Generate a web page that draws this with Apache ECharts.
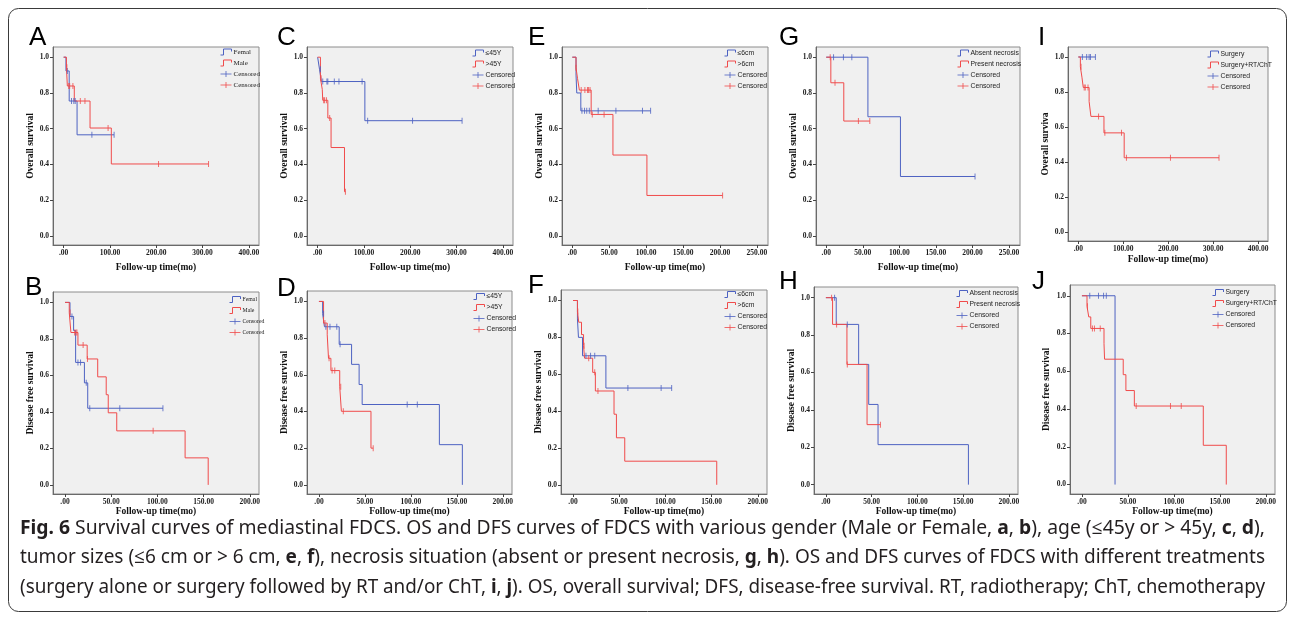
<!DOCTYPE html>
<html><head><meta charset="utf-8">
<script src="https://cdn.jsdelivr.net/npm/echarts@6/dist/echarts.min.js"></script>
<style>html,body{margin:0;padding:0;background:#fff}#c{width:1293px;height:618px}</style>
</head><body><div id="c"></div>
<script>
// ---------- tick labels ----------
const xTicks400 = [0, 100, 200, 300, 400];
const xLabels400 = ['.00', '100.00', '200.00', '300.00', '400.00'];
const xTicks250 = [0, 50, 100, 150, 200, 250];
const xLabels250 = ['.00', '50.00', '100.00', '150.00', '200.00', '250.00'];
const xTicks200 = [0, 50, 100, 150, 200];
const xLabels200 = ['.00', '50.00', '100.00', '150.00', '200.00'];
const yTicks = [0, 0.2, 0.4, 0.6, 0.8, 1.0];
const yLabels = ['0.0', '0.2', '0.4', '0.6', '0.8', '1.0'];

// ---------- group names ----------
const genderGroups = ['Femal', 'Male'];
const ageGroups = ['≤45Y', '>45Y'];
const sizeGroups = ['≤6cm', '>6cm'];
const necrosisGroups = ['Absent necrosis', 'Present necrosis'];
const treatGroups = ['Surgery', 'Surgery+RT/ChT'];

// ---------- survival data [time, survival] ----------
// A: OS by gender
const A_female = [[0,1],[5,0.923],[12,0.755],[29,0.566],[109,0.566]];
const A_femaleCens = [[8,0.923],[17,0.755],[22,0.755],[25,0.755],[61,0.566],[109,0.566]];
const A_male = [[0,1],[6,0.944],[8,0.839],[23,0.755],[57,0.604],[103,0.403],[313,0.403]];
const A_maleCens = [[7,0.944],[11,0.839],[13,0.839],[20,0.839],[36,0.755],[46,0.755],[96,0.604],[205,0.403],[313,0.403]];
// B: DFS by gender
const B_female = [[0,1],[5.4,0.923],[9.3,0.846],[11.5,0.671],[21,0.559],[24.6,0.42],[106,0.42]];
const B_femaleCens = [[7.5,0.923],[14,0.671],[16.8,0.671],[23,0.559],[26.8,0.42],[59.3,0.42],[106,0.42]];
const B_male = [[0,1],[4.6,0.944],[6.4,0.835],[14,0.766],[24,0.69],[35.4,0.592],[44.6,0.494],[46.8,0.395],[56,0.296],[130,0.148],[155,0]];
const B_maleCens = [[5.5,0.944],[10.4,0.835],[11.8,0.835],[12.9,0.835],[19.6,0.766],[24.3,0.69],[95.4,0.296]];
// C: OS by age
const C_young = [[0,1],[4,0.933],[8,0.864],[102,0.645],[312,0.645]];
const C_youngCens = [[6,0.933],[11,0.864],[20,0.864],[22,0.864],[36,0.864],[46,0.864],[96,0.864],[108,0.645],[205,0.645],[312,0.645]];
const C_old = [[0,1],[6,0.882],[10,0.82],[11,0.759],[22,0.66],[29,0.495],[58,0.248],[60,0.248]];
const C_oldCens = [[7.5,0.882],[13,0.759],[15,0.759],[19,0.759],[26,0.66],[60,0.248]];
// D: DFS by age
const D_young = [[0,1],[4,0.933],[6,0.862],[22,0.766],[35.5,0.657],[43.7,0.547],[47,0.438],[131,0.219],[156,0]];
const D_youngCens = [[5,0.933],[7.5,0.862],[12,0.862],[19.4,0.862],[23,0.766],[96,0.438],[107,0.438]];
const D_old = [[0,1],[5,0.882],[9,0.818],[10.4,0.69],[13,0.623],[22.6,0.535],[24.4,0.401],[56.6,0.2],[59,0.2]];
const D_oldCens = [[6.5,0.882],[11,0.69],[14.3,0.623],[17.2,0.623],[23.7,0.535],[26.5,0.401],[59,0.2]];
// E: OS by tumour size
const E_small = [[0,1],[5,0.9],[6,0.8],[11.5,0.7],[106,0.7]];
const E_smallCens = [[13,0.7],[16.5,0.7],[19.5,0.7],[23,0.7],[35,0.7],[59,0.7],[95,0.7],[106,0.7]];
const E_large = [[0,1],[5,0.941],[7,0.882],[9.5,0.816],[25.5,0.68],[55,0.453],[101,0.227],[203.5,0.227]];
const E_largeCens = [[5,0.941],[12,0.816],[17,0.816],[20.5,0.816],[22,0.816],[24,0.816],[27,0.68],[43,0.68],[203.5,0.227]];
// F: DFS by tumour size
const F_small = [[0,1],[4.8,0.9],[5.9,0.8],[10.3,0.7],[35.6,0.525],[107,0.525]];
const F_smallCens = [[14,0.7],[19,0.7],[23.5,0.7],[59.4,0.525],[95.4,0.525],[106.8,0.525]];
const F_large = [[0,1],[4.8,0.941],[6.2,0.882],[9.2,0.815],[11.4,0.755],[12.5,0.687],[21.3,0.61],[24.2,0.509],[44.4,0.383],[47,0.255],[56,0.128],[155.6,0]];
const F_largeCens = [[5.2,0.941],[12,0.755],[17,0.687],[23.5,0.61],[27,0.509]];
// G: OS by necrosis
const G_absent = [[0,1],[57,0.667],[101.5,0.333],[203.5,0.333]];
const G_absentCens = [[10,1],[23.5,1],[35,1],[203.5,0.333]];
const G_present = [[0,1],[6.3,0.857],[24,0.643],[59.6,0.643]];
const G_presentCens = [[5.4,1],[12,0.857],[44,0.643],[59.6,0.643]];
// H: DFS by necrosis
const H_absent = [[0,1],[11.3,0.857],[35.8,0.643],[46.8,0.429],[57,0.214],[155.8,0]];
const H_absentCens = [[9.5,1],[23.4,0.857]];
const H_present = [[0,1],[7.3,0.857],[23,0.643],[45,0.321],[59.6,0.321]];
const H_presentCens = [[6.2,1],[11.7,0.857],[23.4,0.643],[59.6,0.321]];
// I: OS by treatment
const I_surgery = [[0,1],[38,1]];
const I_surgeryCens = [[9,1],[18.5,1],[24,1],[27,1],[38,1]];
const I_combined = [[0,1],[4.5,0.944],[8,0.885],[11,0.826],[24,0.746],[28,0.661],[57,0.567],[102,0.425],[313,0.425]];
const I_combinedCens = [[6,0.944],[13,0.826],[15.5,0.826],[21.5,0.826],[45,0.661],[59,0.567],[96,0.567],[107,0.425],[205,0.425],[313,0.425]];
// J: DFS by treatment
const J_surgery = [[0,1],[36,0]];
const J_surgeryCens = [[8.5,1],[18,1],[23.5,1],[26.5,1]];
const J_combined = [[0,1],[5.5,0.944],[7.4,0.888],[9.6,0.827],[24,0.746],[24.6,0.664],[44.9,0.582],[47.8,0.498],[57,0.416],[132,0.208],[157,0]];
const J_combinedCens = [[6,0.944],[11.4,0.827],[13.6,0.827],[19.9,0.827],[59,0.416],[96.3,0.416],[108,0.416]];

// ---------- caption ----------
const captionLines = [
  [[1,'Fig. 6'],[0,' Survival curves of mediastinal FDCS. OS and DFS curves of FDCS with various gender (Male or Female, '],[1,'a'],[0,', '],[1,'b'],[0,'), age (≤45y or > 45y, '],[1,'c'],[0,', '],[1,'d'],[0,'),']],
  [[0,'tumor sizes (≤6 cm or > 6 cm, '],[1,'e'],[0,', '],[1,'f'],[0,'), necrosis situation (absent or present necrosis, '],[1,'g'],[0,', '],[1,'h'],[0,'). OS and DFS curves of FDCS with different treatments']],
  [[0,'(surgery alone or surgery followed by RT and/or ChT, '],[1,'i'],[0,', '],[1,'j'],[0,'). OS, overall survival; DFS, disease-free survival. RT, radiotherapy; ChT, chemotherapy']]
];

// ---------- layout / styles ----------
const BLUE = '#4d62c2', RED = '#f04b4b';
const SERIF = "'Liberation Serif','Times New Roman',serif";
const SANS = "'Liberation Sans',Arial,sans-serif";
const XS = {
  s400: {min:-23, max:422, ticks:xTicks400, labels:xLabels400},
  s250: {min:-14, max:265, ticks:xTicks250, labels:xLabels250},
  s200: {min:-13, max:210, ticks:xTicks200, labels:xLabels200}
};
const panels = [
  {letter:'A', lx:29, ly:38, left:53, top:47, w:206, h:198, xs:'s400', groups:genderGroups, d:[A_female,A_male,A_femaleCens,A_maleCens], yName:'Overall survival', yGap:15.5, xGap:18, lg:{left:218,top:46.5,sp:8,fam:SERIF,fs:7}},
  {letter:'C', lx:277, ly:38, left:307, top:47, w:206, h:198, xs:'s400', groups:ageGroups, d:[C_young,C_old,C_youngCens,C_oldCens], yName:'Overall survival', yGap:16, xGap:18, lg:{left:470,top:47.5,sp:8.4,fam:SANS,fs:6.8}},
  {letter:'E', lx:528, ly:38, left:562, top:47, w:206, h:198, xs:'s250', groups:sizeGroups, d:[E_small,E_large,E_smallCens,E_largeCens], yName:'Overall survival', yGap:17, xGap:18, lg:{left:722,top:47.5,sp:8.3,fam:SANS,fs:6.8}},
  {letter:'G', lx:779, ly:38, left:816, top:47, w:204, h:198, xs:'s250', groups:necrosisGroups, d:[G_absent,G_present,G_absentCens,G_presentCens], yName:'Overall survival', yGap:17.5, xGap:18, lg:{left:955,top:47.5,sp:8.3,fam:SANS,fs:6.8}},
  {letter:'I', lx:1038, ly:38, left:1068, top:47, w:200, h:194, xs:'s400', groups:treatGroups, d:[I_surgery,I_combined,I_surgeryCens,I_combinedCens], yName:'Overall surviva', yGap:16.5, xGap:14, lg:{left:1205,top:48.5,sp:8.1,fam:SANS,fs:6.8}},
  {letter:'B', lx:25, ly:288, left:53, top:292, w:206, h:202, xs:'s200', groups:genderGroups, d:[B_female,B_male,B_femaleCens,B_maleCens], yName:'Disease free survival', yGap:15.5, xGap:12, lg:{left:227,top:294,sp:6.2,fam:SERIF,fs:5.8}},
  {letter:'D', lx:277, ly:289, left:307, top:291, w:205, h:203, xs:'s200', groups:ageGroups, d:[D_young,D_old,D_youngCens,D_oldCens], yName:'Disease free survival', yGap:16, xGap:12, lg:{left:471,top:291,sp:8.7,fam:SANS,fs:6.8}},
  {letter:'F', lx:528, ly:286, left:561, top:290, w:206, h:204, xs:'s200', groups:sizeGroups, d:[F_small,F_large,F_smallCens,F_largeCens], yName:'Disease free survival', yGap:16, xGap:12, lg:{left:722,top:289,sp:8.7,fam:SANS,fs:6.8}},
  {letter:'H', lx:779, ly:282, left:814, top:287, w:204, h:207, xs:'s200', groups:necrosisGroups, d:[H_absent,H_present,H_absentCens,H_presentCens], yName:'Disease free survival', yGap:16.5, xGap:12, lg:{left:954,top:288,sp:8.7,fam:SANS,fs:6.8}},
  {letter:'J', lx:1032, ly:282, left:1070, top:285, w:205, h:209, xs:'s200', groups:treatGroups, d:[J_surgery,J_combined,J_surgeryCens,J_combinedCens], yName:'Disease free survival', yGap:18, xGap:12, lg:{left:1210,top:287,sp:8.5,fam:SANS,fs:6.8}}
];

const STEP_ICON = 'path://M0,6 L3,6 L3,0 L11,0 L11,2.5';
const PLUS_ICON = 'path://M0,3 L11,3 M5.5,0 L5.5,6';

function labelOf(ticks, labels) {
  return v => { const i = ticks.findIndex(t => Math.abs(t - v) < 1e-9); return i >= 0 ? labels[i] : ''; };
}

const grids = [], xAxes = [], yAxes = [], series = [], legends = [], graphics = [];
panels.forEach((p, i) => {
  const xs = XS[p.xs];
  grids.push({left:p.left, top:p.top, width:p.w, height:p.h, show:true, backgroundColor:'#f0f0f0', borderColor:'#8c8c8c', borderWidth:1});
  const tickFont = {fontFamily:SERIF, fontWeight:'bold', fontSize:7.5, color:'#1a1a1a'};
  const nameFont = {fontFamily:SERIF, fontWeight:'bold', fontSize:9.5, color:'#111'};
  xAxes.push({gridIndex:i, type:'value', min:xs.min, max:xs.max,
    axisLine:{show:true, onZero:false, lineStyle:{color:'#6a6a6a', width:1}},
    axisTick:{show:true, length:3, customValues:xs.ticks, lineStyle:{color:'#444'}},
    axisLabel:Object.assign({customValues:xs.ticks, formatter:labelOf(xs.ticks, xs.labels), margin:4}, tickFont),
    splitLine:{show:false},
    name:'Follow-up time(mo)', nameLocation:'middle', nameGap:p.xGap, nameTextStyle:nameFont});
  yAxes.push({gridIndex:i, type:'value', min:-0.05, max:1.057,
    axisLine:{show:true, onZero:false, lineStyle:{color:'#6a6a6a', width:1}},
    axisTick:{show:true, length:3, customValues:yTicks, lineStyle:{color:'#444'}},
    axisLabel:Object.assign({customValues:yTicks, formatter:labelOf(yTicks, yLabels), margin:4}, tickFont),
    splitLine:{show:false},
    name:p.yName, nameLocation:'middle', nameGap:p.yGap, nameTextStyle:nameFont});
  const common = {xAxisIndex:i, yAxisIndex:i, animation:false, silent:true};
  series.push(Object.assign({type:'line', name:p.groups[0], data:p.d[0], step:'end', symbol:'none', showSymbol:false, lineStyle:{color:BLUE, width:1}, itemStyle:{color:BLUE}, z:2}, common));
  series.push(Object.assign({type:'line', name:p.groups[1], data:p.d[1], step:'end', symbol:'none', showSymbol:false, lineStyle:{color:RED, width:1}, itemStyle:{color:RED}, z:3}, common));
  series.push(Object.assign({type:'scatter', name:'Censored', data:p.d[2], symbol:'rect', symbolSize:[1,6], itemStyle:{color:BLUE}, z:4}, common));
  series.push(Object.assign({type:'scatter', name:'Censored ', data:p.d[3], symbol:'rect', symbolSize:[1,6], itemStyle:{color:RED}, z:5}, common));
  const lh = p.lg.sp;
  legends.push({orient:'vertical', left:p.lg.left, top:p.lg.top, padding:0, itemWidth:11, itemHeight:6, itemGap:0, selectedMode:false,
    textStyle:{fontFamily:p.lg.fam, fontSize:p.lg.fs, color:'#222', lineHeight:lh, height:lh, padding:[0,0,0,-3]},
    data:[
      {name:p.groups[0], icon:STEP_ICON, itemStyle:{color:'none', borderColor:BLUE, borderWidth:1}},
      {name:p.groups[1], icon:STEP_ICON, itemStyle:{color:'none', borderColor:RED, borderWidth:1}},
      {name:'Censored', icon:PLUS_ICON, itemStyle:{color:'none', borderColor:BLUE, borderWidth:1}},
      {name:'Censored ', icon:PLUS_ICON, itemStyle:{color:'none', borderColor:RED, borderWidth:1}}
    ]});
  graphics.push({type:'text', x:p.lx, y:p.ly, style:{text:p.letter, fontFamily:SANS, fontSize:26, fill:'#000', verticalAlign:'middle', align:'left'}});
});

// caption
const CAP_FAM = "'Noto Sans','Open Sans',sans-serif";
const CAP_FS = 19.5;
const ctx = document.createElement('canvas').getContext('2d');
const captionY = [528, 557.5, 587];
captionLines.forEach((segs, k) => {
  let w = 0;
  segs.forEach(([b, t]) => { ctx.font = (b ? 'bold ' : '') + CAP_FS + 'px ' + CAP_FAM; w += ctx.measureText(t).width; });
  const target = 1245;
  const text = segs.map(([b, t]) => '{' + (b ? 'b' : 'n') + '|' + t + '}').join('');
  graphics.push({type:'text', x:20, y:captionY[k], scaleX: target / w, style:{text:text, verticalAlign:'middle', align:'left',
    rich:{n:{fontFamily:CAP_FAM, fontSize:CAP_FS, fill:'#231f20'}, b:{fontFamily:CAP_FAM, fontSize:CAP_FS, fontWeight:'bold', fill:'#231f20'}}}});
});
// outer frame
graphics.push({type:'rect', shape:{x:8.5, y:8.5, width:1278, height:603, r:10}, style:{fill:'none', stroke:'#3a3a3a', lineWidth:1}, silent:true});

const chart = echarts.init(document.getElementById('c'), null, {renderer:'canvas'});
chart.setOption({animation:false, backgroundColor:'#fff', grid:grids, xAxis:xAxes, yAxis:yAxes, series:series, legend:legends, graphic:graphics});
</script></body></html>
